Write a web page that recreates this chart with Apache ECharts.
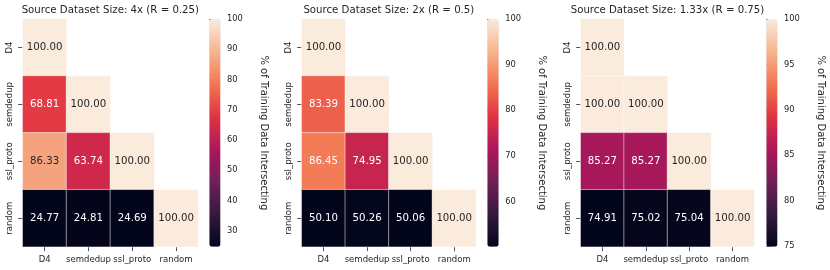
<!DOCTYPE html>
<html><head><meta charset="utf-8">
<script src="https://cdn.jsdelivr.net/npm/echarts@6/dist/echarts.min.js"></script>
<style>html,body{margin:0;padding:0;background:#fff}#c{width:830px;height:270px}</style>
</head><body><div id="c"></div>
<script>
// ---- data ----
const categories = ['D4', 'semdedup', 'ssl_proto', 'random'];
const titles = ['Source Dataset Size: 4x (R = 0.25)', 'Source Dataset Size: 2x (R = 0.5)', 'Source Dataset Size: 1.33x (R = 0.75)'];
const valuesR025 = [[100.00], [68.81, 100.00], [86.33, 63.74, 100.00], [24.77, 24.81, 24.69, 100.00]];
const valuesR05 = [[100.00], [83.39, 100.00], [86.45, 74.95, 100.00], [50.10, 50.26, 50.06, 100.00]];
const valuesR075 = [[100.00], [100.00, 100.00], [85.27, 85.27, 100.00], [74.91, 75.02, 75.04, 100.00]];
const cbTicksR025 = [30, 40, 50, 60, 70, 80, 90, 100];
const cbTicksR05 = [60, 70, 80, 90, 100];
const cbTicksR075 = [75, 80, 85, 90, 95, 100];
const cbLabel = '% of Training Data Intersecting';

// ---- style / layout ----
const rocket = ['#03051a', '#35193e', '#701f57', '#ad1759', '#e13342', '#f37651', '#f6b48f', '#faebdd'];
const FONT = 'DejaVu Sans';
const TXT = '#262626';
const heatGrids = [
  {left: 22.7, width: 175.3},
  {left: 301.7, width: 174.3},
  {left: 580.7, width: 173.6}
];
const cbGrids = [
  {left: 209.3, width: 11.2},
  {left: 487.3, width: 11.4},
  {left: 766.3, width: 11.2}
];
const TOP = 19, HEIGHT = 227.7;

const panels = [valuesR025, valuesR05, valuesR075];
const ticks = [cbTicksR025, cbTicksR05, cbTicksR075];

function hex2rgb(h) { return [parseInt(h.slice(1,3),16), parseInt(h.slice(3,5),16), parseInt(h.slice(5,7),16)]; }
function cmap(t) {
  t = Math.max(0, Math.min(1, t));
  const n = rocket.length - 1;
  const p = t * n, i = Math.min(n - 1, Math.floor(p)), f = p - i;
  const a = hex2rgb(rocket[i]), b = hex2rgb(rocket[i + 1]);
  return a.map((v, k) => v + (b[k] - v) * f);
}
function lum(rgb) {
  const c = rgb.map(v => { v /= 255; return v <= 0.03928 ? v / 12.92 : Math.pow((v + 0.055) / 1.055, 2.4); });
  return 0.2126 * c[0] + 0.7152 * c[1] + 0.0722 * c[2];
}

const grid = [], xAxis = [], yAxis = [], series = [], visualMap = [], title = [];
panels.forEach((rows, p) => {
  const flat = rows.flat();
  const vmin = Math.min(...flat), vmax = Math.max(...flat);
  const g = heatGrids[p];
  const hi = 2 * p, ci = 2 * p + 1;
  grid.push({left: g.left, top: TOP, width: g.width, height: HEIGHT});
  title.push({text: titles[p], left: g.left + g.width / 2, top: 5, textAlign: 'center', padding: 0,
    textStyle: {fontFamily: FONT, fontSize: 10.2, fontWeight: 'normal', color: TXT}});
  xAxis.push({type: 'category', gridIndex: hi, data: categories,
    axisLine: {show: false}, splitLine: {show: false},
    axisTick: {show: true, alignWithLabel: true, length: 4.5, lineStyle: {color: TXT, width: 0.8}},
    axisLabel: {fontFamily: FONT, fontSize: 8.5, color: TXT, margin: 9, interval: 0}});
  yAxis.push({type: 'category', gridIndex: hi, data: categories, inverse: true,
    axisLine: {show: false}, splitLine: {show: false},
    axisTick: {show: true, alignWithLabel: true, length: 4.5, lineStyle: {color: TXT, width: 0.8}},
    axisLabel: {fontFamily: FONT, fontSize: 8.5, color: TXT, margin: 8.5, rotate: 90, interval: 0}});
  const data = [];
  rows.forEach((r, ri) => r.forEach((v, cj) => {
    const col = cmap((v - vmin) / (vmax - vmin));
    data.push({value: [cj, ri, v], label: {color: lum(col) > 0.408 ? TXT : '#ffffff'}});
  }));
  series.push({type: 'heatmap', xAxisIndex: hi, yAxisIndex: hi, data: data,
    itemStyle: {borderColor: '#ffffff', borderWidth: 0.5},
    label: {show: true, fontFamily: FONT, fontSize: 10.2, formatter: d => d.value[2].toFixed(2)},
    emphasis: {disabled: true}});
  const cb = cbGrids[p];
  visualMap.push({type: 'continuous', seriesIndex: p, min: vmin, max: vmax,
    inRange: {color: rocket}, left: cb.left, top: TOP, itemWidth: cb.width, itemHeight: HEIGHT,
    padding: 0, calculable: false, hoverLink: false, text: null, showLabel: false,
    indicatorSize: 0, handleSize: 0,
    indicatorStyle: {opacity: 0, borderWidth: 0, shadowBlur: 0},
    handleStyle: {opacity: 0, borderWidth: 0, shadowBlur: 0},
    textStyle: {fontSize: 0, color: 'rgba(0,0,0,0)'}});
  // colorbar axis
  grid.push({left: cb.left, top: TOP, width: cb.width, height: HEIGHT});
  xAxis.push({type: 'value', gridIndex: ci, show: false, min: 0, max: 1});
  yAxis.push({type: 'value', gridIndex: ci, position: 'right', min: vmin, max: vmax,
    axisLine: {show: false}, splitLine: {show: false},
    axisTick: {show: true, length: 4.5, lineStyle: {color: TXT, width: 0.8}, customValues: ticks[p]},
    axisLabel: {fontFamily: FONT, fontSize: 8.3, color: TXT, margin: 6.5, customValues: ticks[p]},
    name: cbLabel, nameLocation: 'middle', nameRotate: -90, nameGap: 38,
    nameTextStyle: {fontFamily: FONT, fontSize: 10, color: TXT}});
});

const chart = echarts.init(document.getElementById('c'), null, {renderer: 'canvas'});
chart.setOption({animation: false, backgroundColor: '#ffffff', title, grid, xAxis, yAxis, series, visualMap});
</script></body></html>
